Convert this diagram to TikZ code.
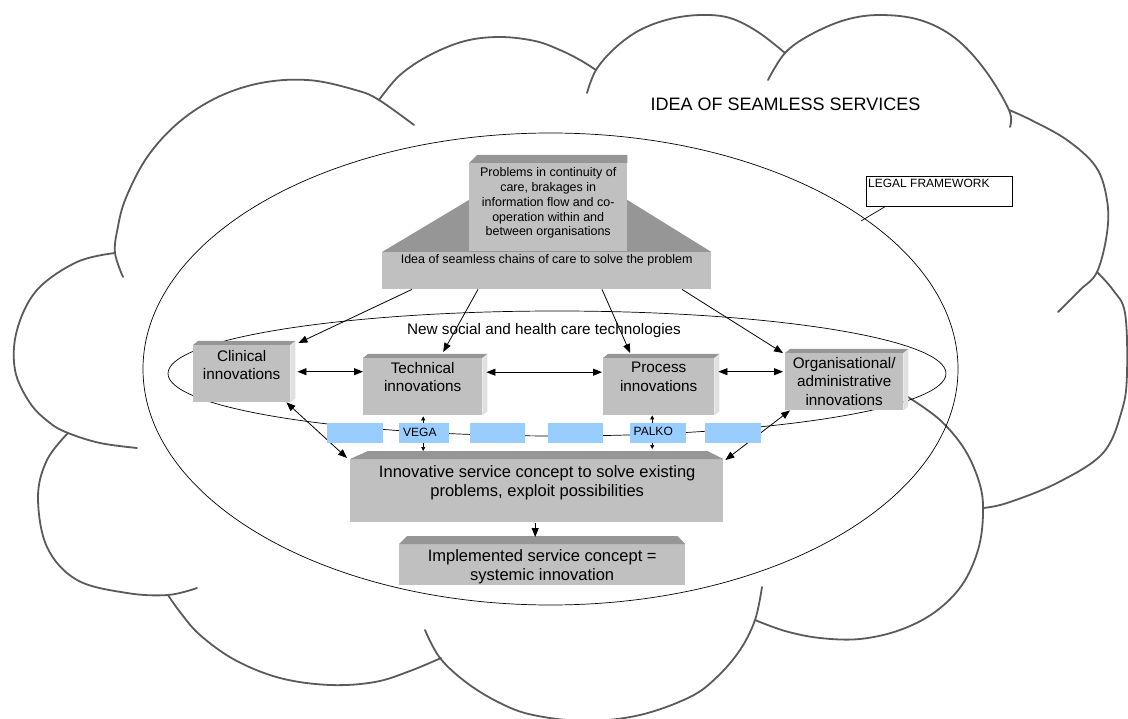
\documentclass[tikz,border=0pt]{standalone}
\usepackage{fontspec}
\setmainfont{Liberation Sans}
\usetikzlibrary{calc,arrows.meta}
\definecolor{boxgray}{HTML}{C0C0C0}
\definecolor{topgray}{HTML}{969696}
\definecolor{sidegray}{HTML}{E0E0E0}
\definecolor{chainblue}{HTML}{99CCFF}
\definecolor{cloudline}{HTML}{5A5A5A}
\begin{document}
\begin{tikzpicture}[x=1pt,y=-1pt,
  cloud/.style={draw=cloudline, line width=1.8pt, line cap=round},
  ring/.style={draw=black, line width=0.7pt},
  front/.style={fill=boxgray, inner sep=0pt, anchor=north west},
  topface/.style={fill=topgray},
  sideface/.style={fill=sidegray},
  chain/.style={fill=chainblue, inner sep=0pt, anchor=north west, minimum height=20pt},
  smalltxt/.style={inner sep=0pt, align=center, font=\fontsize{12.5}{14.75}\selectfont},
  midtxt/.style={inner sep=0pt, align=center, font=\fontsize{15.3}{18.5}\selectfont},
  bigtxt/.style={inner sep=0pt, align=center, font=\fontsize{16.5}{19}\selectfont},
  tagtxt/.style={inner sep=0pt, anchor=base west, font=\fontsize{12}{14}\selectfont},
  arr/.style={line width=0.8pt, -{Triangle[length=9pt,width=7pt]}},
  darr/.style={line width=0.8pt, {Triangle[length=9pt,width=7pt]}-{Triangle[length=9pt,width=7pt]}},
  tinyarr/.style={line width=0.6pt, {Triangle[length=4pt,width=4pt]}-{Triangle[length=4pt,width=4pt]}}
]
\useasboundingbox (0,0) rectangle (1128,719);

% ---- cloud outline, lobe by lobe ----
\draw[cloud] plot[smooth, tension=0.6] coordinates {(123,277) (115,253) (117.5,229) (125.7,198.4) (147.5,156.6) (179.3,121.9) (219.1,96.5) (264,82.4) (311.1,80.3) (357.2,90.5) (379,100) (414,125)};
\draw[cloud] plot[smooth, tension=0.6] coordinates {(379,100) (400,75) (430,55) (465,41) (500,37) (535,41) (560,50) (580,60) (596,70)};
\draw[cloud] plot[smooth, tension=0.6] coordinates {(587,93) (596,70) (615,48) (640,30) (670,19) (701,15) (730,18) (758,32) (785,53)};
\draw[cloud] plot[smooth, tension=0.6] coordinates {(768,80) (785,53) (810,35) (845,20) (880,15) (920,20) (955,38) (985,70) (1009,110) (1010,127)};
\draw[cloud] plot[smooth, tension=0.6] coordinates {(1009,110) (1031,120) (1067,140) (1096,167) (1107,200) (1107,233) (1097,272) (1080,290) (1058,312)};
\draw[cloud] plot[smooth, tension=0.6] coordinates {(1097,272) (1113,290) (1125,313) (1127,373) (1122,410) (1103,453) (1057,483) (1007,503) (983,508)};
\draw[cloud] plot[smooth, tension=0.6] coordinates {(908,397) (940,420) (965,450) (980,485) (983,515) (978,550) (962,585) (935,612) (900,630) (860,639) (820,638) (785,631) (755,620)};
\draw[cloud] plot[smooth, tension=0.6] coordinates {(425,630) (440,658) (467,683) (500,703) (533,715) (586,721) (640,715) (690,697) (717,677) (740,650) (755,620) (762,587)};
\draw[cloud] plot[smooth, tension=0.6] coordinates {(168,595) (180,612) (200,635) (235,660) (280,678) (330,685) (375,682) (410,671) (441,658)};
\draw[cloud] plot[smooth, tension=0.6] coordinates {(68,433) (47,460) (38,497) (47,547) (77,580) (127,593) (168,595) (197,588)};
\draw[cloud] plot[smooth, tension=0.6] coordinates {(115,253) (77,262) (37,290) (17,330) (15,370) (30,403) (50,423) (68,433) (100,443) (137,448)};

% ---- legal framework and technology ellipses ----
\draw[ring] (550.5,369) ellipse [x radius=407.5, y radius=236];
\draw[ring] (557,373.5) ellipse [x radius=389, y radius=62.5];

% ---- problem / idea block ----
\node[front, minimum width=329, minimum height=37] (base) at (382,252) {};
\fill[topface] (base.north west) -- ($(base.north west)+(87,-52)$) -- ($(base.north east)+(-84,-52)$) -- (base.north east) -- cycle;
\node[front, minimum width=158, minimum height=88] (prob) at (469,163) {};
\fill[topface] (prob.north west) -- ($(prob.north west)+(8,-8)$) -- ($(prob.north east)+(0,-8)$) -- (prob.north east) -- cycle;

% ---- innovation boxes ----
\node[front, minimum width=97, minimum height=57] (clin) at (193,345) {};
\node[front, minimum width=119, minimum height=57] (tech) at (363,358) {};
\node[front, minimum width=111, minimum height=57] (proc) at (603,358) {};
\node[front, minimum width=118, minimum height=57] (org) at (785,353) {};
\foreach \n in {clin,tech,proc,org}{
  \fill[topface] (\n.north west) -- ++(5,-4) -- ($(\n.north east)+(5,-4)$) -- (\n.north east) -- cycle;
  \fill[sideface] (\n.north east) -- ++(5,-4) -- ($(\n.south east)+(5,-4)$) -- (\n.south east) -- cycle;
}

% ---- service concept boxes ----
\node[front, minimum width=373, minimum height=63] (inno) at (350,459) {};
\fill[topface] (inno.north west) -- ($(inno.north west)+(18,-8)$) -- ($(inno.north east)+(-16,-8)$) -- (inno.north east) -- cycle;
\node[front, minimum width=286, minimum height=41] (impl) at (399,544) {};
\fill[topface] (impl.north west) -- ($(impl.north west)+(8,-8)$) -- ($(impl.north east)+(-8,-8)$) -- (impl.north east) -- cycle;

% ---- legal framework callout ----
\node[draw=black, line width=0.7pt, inner sep=0pt, anchor=north west, minimum width=146, minimum height=30] (legal) at (866,176) {};
\coordinate (legalpt) at (861,221);
\draw[line width=0.7pt] ($(legal.south west)+(19,0)$) -- (legalpt);

% ---- connectors ----
\draw[arr] ($(base.south west)+(30,0)$) -- ($(clin.north east)+(8,-2)$);
\draw[arr] ($(base.south west)+(96,0)$) -- ($(tech.north)+(20.5,-6)$);
\draw[arr] ($(base.south west)+(220,0)$) -- ($(proc.north)+(-28.5,-5)$);
\draw[arr] ($(base.south west)+(300,0)$) -- ($(org.north west)+(-2,0)$);
\draw[darr] ($(clin.east)+(7,-2)$) -- ($(tech.west)+(0,-15)$);
\draw[darr] ($(tech.east)+(4,-14.5)$) -- ($(proc.west)+(-1,-14.5)$);
\draw[darr] ($(proc.east)+(4,-15)$) -- ($(org.west)+(-2,-10)$);
\draw[darr] ($(clin.south east)+(-4,0)$) -- ($(inno.north west)+(-3,-1)$);
\draw[darr] ($(org.south west)+(5,0)$) -- ($(inno.north east)+(2,1)$);
\draw[tinyarr] ($(tech.south)+(0.5,1)$) -- ($(tech.south |- inno.north)+(0.5,-8)$);
\draw[tinyarr] ($(proc.south)+(-6.5,0)$) -- ($(proc.south |- inno.north)+(-6.5,-10)$);
\draw[arr] ($(inno.south)+(-1.5,1)$) -- ($(inno.south |- impl.north)+(-1.5,-7)$);

% ---- chain of projects ----
\node[chain, minimum width=56] (b1) at (327,423) {};
\node[chain, minimum width=50] (b2) at (399,423) {};
\node[chain, minimum width=55] (b3) at (470,423) {};
\node[chain, minimum width=55] (b4) at (548,423) {};
\node[chain, minimum width=56] (b5) at (630,423) {};
\node[chain, minimum width=56] (b6) at (705,423) {};
\node[tagtxt] (vega) at ($(b2.north west)+(4,13)$) {VEGA};
\node[tagtxt] (palko) at ($(b5.north west)+(3.5,12.5)$) {PALKO};

% ---- texts ----
\node[inner sep=0pt, anchor=base, font=\fontsize{18}{21}\selectfont] (idea) at (785.5,111) {IDEA OF SEAMLESS SERVICES};
\node[tagtxt] (legaltext) at ($(legal.north west)+(2,12)$) {LEGAL FRAMEWORK};
\node[smalltxt, anchor=north] (probtext) at ($(prob.north)+(0,4.7)$) {Problems in continuity of\\care, brakages in\\information flow and co-\\operation within and\\between organisations};
\node[smalltxt, anchor=base] (basetext) at ($(base.north)+(0,12)$) {Idea of seamless chains of care to solve the problem};
\node[midtxt, anchor=base] (nshct) at (544,335) {New social and health care technologies};
\node[midtxt, anchor=north] (clintext) at ($(clin.north)+(0,5)$) {Clinical\\innovations};
\node[midtxt, anchor=north] (techtext) at ($(tech.north)+(0,4)$) {Technical\\innovations};
\node[midtxt, anchor=north] (proctext) at ($(proc.north)+(0,4)$) {Process\\innovations};
\node[midtxt, anchor=north] (orgtext) at ($(org.north)+(0,4)$) {Organisational/\\administrative\\innovations};
\node[bigtxt, anchor=north] (innotext) at ($(inno.north)+(0.5,6.2)$) {Innovative service concept to solve existing\\problems, exploit possibilities};
\node[bigtxt, anchor=north] (impltext) at ($(impl.north)+(0,5.2)$) {Implemented service concept =\\systemic innovation};
\end{tikzpicture}
\end{document}
